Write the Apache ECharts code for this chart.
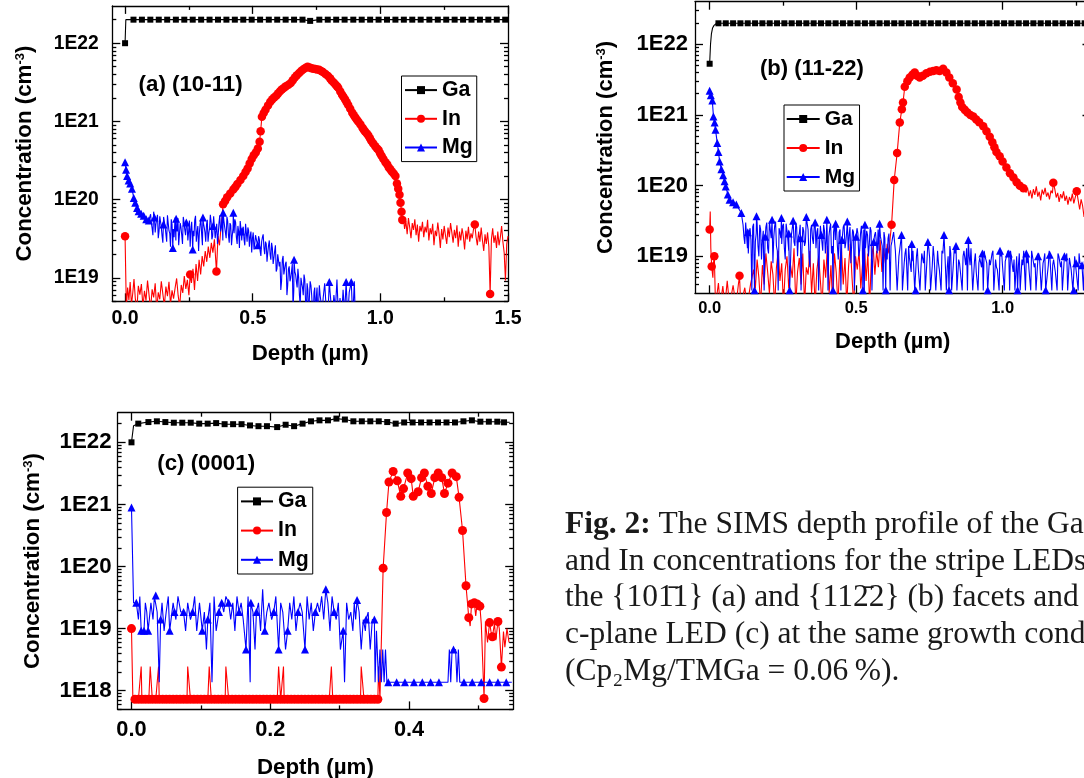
<!DOCTYPE html>
<html><head><meta charset="utf-8">
<script src="https://cdn.jsdelivr.net/npm/echarts@6/dist/echarts.min.js"></script>
<style>html,body{margin:0;padding:0;background:#fff}#c{width:1084px;height:778px}</style>
</head><body><div id="c"></div><script>
// ================= DATA (depth in µm, concentration in cm^-3) =================
const seriesNames = ['Ga', 'In', 'Mg'];
const panelLabels = ['(a) (10-11)', '(b) (11-22)', '(c) (0001)'];
const xTickLabelsA = [0, 0.5, 1.0, 1.5];
const xTickLabelsB = [0, 0.5, 1.0];
const xTickLabelsC = [0, 0.2, 0.4];
const yTickLabelsAB = [1e19, 1e20, 1e21, 1e22];
const yTickLabelsC = [1e18, 1e19, 1e20, 1e21, 1e22];

// ---- panel (a) ----
const aGaMark = [[0,1.0e22],[0.033,2.0e22],[0.066,2.0e22],[0.099,2.0e22],[0.132,2.0e22],[0.165,2.0e22],[0.199,2.0e22],[0.232,2.0e22],[0.265,2.0e22],[0.298,2.0e22],[0.331,2.0e22],[0.364,2.0e22],[0.397,2.0e22],[0.430,2.0e22],[0.463,2.0e22],[0.496,2.0e22],[0.529,2.0e22],[0.563,2.0e22],[0.596,2.0e22],[0.629,2.0e22],[0.662,2.0e22],[0.695,2.0e22],[0.725,1.93e22],[0.761,2.0e22],[0.794,2.0e22],[0.827,2.0e22],[0.860,2.0e22],[0.894,2.0e22],[0.927,2.0e22],[0.960,2.0e22],[0.993,2.0e22],[1.026,2.0e22],[1.059,2.0e22],[1.092,2.0e22],[1.125,2.0e22],[1.158,2.0e22],[1.192,2.0e22],[1.225,2.0e22],[1.258,2.0e22],[1.291,2.0e22],[1.324,2.0e22],[1.357,2.0e22],[1.390,2.0e22],[1.423,2.0e22],[1.456,2.0e22],[1.489,2.0e22]];
const aGaLine = [[0.003,2.0e22],[1.5,2.0e22]];
const aInMark = [[0,3.4e19],[0.255,1.1e19],[0.358,1.2e19],
 [0.384,8.7e19],[0.392,9.6e19],[0.400,1.07e20],[0.412,1.2e20],[0.424,1.35e20],[0.432,1.45e20],[0.440,1.58e20],[0.452,1.78e20],[0.463,2.0e20],[0.472,2.25e20],[0.480,2.5e20],[0.488,2.9e20],[0.496,3.3e20],[0.504,3.7e20],[0.512,4.0e20],[0.520,4.5e20],[0.527,5.5e20],[0.531,7.5e20],[0.536,1.15e21],[0.543,1.28e21],[0.550,1.41e21],[0.560,1.6e21],[0.569,1.78e21],[0.577,1.92e21],[0.585,2.04e21],[0.593,2.15e21],[0.600,2.29e21],[0.608,2.45e21],[0.615,2.57e21],[0.623,2.7e21],[0.630,2.82e21],[0.640,2.95e21],[0.649,3.09e21],[0.657,3.35e21],[0.665,3.63e21],[0.673,3.9e21],[0.682,4.17e21],[0.691,4.45e21],[0.700,4.68e21],[0.708,4.85e21],[0.715,5.0e21],[0.723,4.9e21],[0.730,4.79e21],[0.738,4.72e21],[0.745,4.68e21],[0.752,4.62e21],[0.760,4.57e21],[0.768,4.42e21],[0.775,4.27e21],[0.785,4.05e21],[0.795,3.8e21],[0.803,3.55e21],[0.810,3.31e21],[0.818,3.12e21],[0.825,2.95e21],[0.830,2.82e21],[0.835,2.69e21],[0.843,2.42e21],[0.850,2.19e21],[0.856,2.05e21],[0.862,1.91e21],[0.868,1.76e21],[0.874,1.62e21],[0.882,1.45e21],[0.890,1.29e21],[0.896,1.2e21],[0.902,1.12e21],[0.908,1.05e21],[0.914,9.9e20],[0.922,9.1e20],[0.930,8.3e20],[0.935,7.8e20],[0.940,7.4e20],[0.947,7.0e20],[0.953,6.6e20],[0.959,6.1e20],[0.965,5.6e20],[0.972,5.2e20],[0.980,4.8e20],[0.987,4.5e20],[0.993,4.3e20],[0.999,3.9e20],[1.005,3.6e20],[1.012,3.3e20],[1.020,3.0e20],[1.027,2.8e20],[1.033,2.57e20],[1.039,2.45e20],[1.045,2.29e20],[1.052,2.15e20],[1.059,2.0e20],[1.065,1.6e20],[1.070,1.38e20],[1.075,1.15e20],[1.079,9.1e19],[1.083,7.0e19],[1.086,5.5e19],
 [1.370,4.8e19],[1.430,6.2e18]];
const aInLine = [[0.005,4.0e18],[0.010,7.5e18],[0.015,5.2e18],[0.020,8.8e18],[0.025,4.5e18],[0.030,6.3e18],[0.035,9.6e18],[0.040,5.5e18],[0.046,3.8e18],[0.052,7.9e18],[0.058,6.1e18],[0.064,8.3e18],[0.070,4.2e18],[0.076,6.8e18],[0.082,5.1e18],[0.088,9.2e18],[0.094,6.0e18],[0.100,4.0e18],[0.106,7.1e18],[0.112,5.6e18],[0.118,8.5e18],[0.124,3.9e18],[0.130,6.5e18],[0.136,5.3e18],[0.142,9.0e18],[0.148,6.2e18],[0.154,4.4e18],[0.160,7.7e18],[0.166,5.8e18],[0.172,8.9e18],[0.178,4.6e18],[0.184,6.9e18],[0.190,5.4e18],[0.196,7.4e18],[0.202,9.8e18],[0.208,5.9e18],[0.214,4.3e18],[0.220,8.1e18],[0.226,6.4e18],[0.232,1.05e19],[0.238,7.2e18],[0.244,9.4e18],[0.250,6.0e18],[0.260,8.6e18],[0.266,1.3e19],[0.272,7.0e18],[0.278,1.5e19],[0.284,9.1e18],[0.290,1.7e19],[0.296,1.1e19],[0.302,1.9e19],[0.308,1.4e19],[0.314,2.2e19],[0.320,1.6e19],[0.326,2.5e19],[0.332,1.8e19],[0.338,2.8e19],[0.344,2.1e19],[0.350,3.1e19],[0.364,3.4e19],[0.370,2.6e19],[0.376,4.5e19],
 [1.090,6.0e19],[1.095,4.2e19],[1.100,5.3e19],[1.105,3.6e19],[1.110,5.8e19],[1.115,4.4e19],[1.120,3.2e19],[1.125,5.0e19],[1.130,4.1e19],[1.135,5.6e19],[1.140,3.5e19],[1.145,4.8e19],[1.150,2.9e19],[1.155,4.6e19],[1.160,3.9e19],[1.165,5.2e19],[1.170,3.3e19],[1.175,4.5e19],[1.180,3.8e19],[1.185,5.5e19],[1.190,3.0e19],[1.195,4.3e19],[1.200,3.6e19],[1.205,4.9e19],[1.210,2.6e19],[1.215,4.0e19],[1.220,3.4e19],[1.225,5.1e19],[1.230,3.7e19],[1.235,2.4e19],[1.240,4.2e19],[1.245,3.1e19],[1.250,4.6e19],[1.255,3.5e19],[1.260,2.7e19],[1.265,4.4e19],[1.270,3.3e19],[1.275,5.0e19],[1.280,3.8e19],[1.285,2.8e19],[1.290,4.1e19],[1.295,3.2e19],[1.300,4.7e19],[1.305,2.5e19],[1.310,3.9e19],[1.315,3.0e19],[1.320,4.3e19],[1.325,3.4e19],[1.330,2.3e19],[1.335,4.0e19],[1.340,3.1e19],[1.345,4.5e19],[1.350,2.9e19],[1.355,3.7e19],[1.360,3.2e19],[1.365,4.2e19],[1.375,3.3e19],[1.380,2.6e19],[1.385,3.9e19],[1.390,2.9e19],[1.395,4.4e19],[1.400,3.0e19],[1.405,2.2e19],[1.410,3.6e19],[1.415,2.7e19],[1.420,3.8e19],[1.425,2.5e19],[1.435,3.1e19],[1.440,4.3e19],[1.445,2.8e19],[1.450,3.5e19],[1.455,2.4e19],[1.460,3.9e19],[1.465,2.6e19],[1.470,3.3e19],[1.475,4.6e19],[1.480,2.9e19],[1.485,2.1e19],[1.490,9.2e18],[1.495,2.7e19],[1.500,3.4e19]];
const aMgMark = [[0,3.0e20],[0.004,2.4e20],[0.008,2.0e20],[0.014,1.75e20],[0.020,1.6e20],[0.027,1.38e20],[0.034,1.05e20],[0.040,9.1e19],[0.047,7.8e19],[0.053,7.1e19],[0.063,6.6e19],[0.073,6.2e19],[0.083,5.6e19],[0.093,5.4e19],
 [0.115,5.9e19],[0.150,4.8e19],[0.187,2.4e19],[0.200,5.7e19],[0.240,5.1e19],[0.265,2.3e19],[0.305,5.9e19],[0.345,4.6e19],[0.384,6.8e19],[0.424,6.8e19],[0.455,3.9e19],[0.520,2.6e19],[0.662,1.7e19],[0.800,8.8e18],[0.866,8.8e18],[0.886,8.8e18]];
const aMgLine = [[0.100,6.5e19],[0.106,4.3e19],[0.112,7.0e19],[0.118,3.8e19],[0.124,5.6e19],[0.130,3.2e19],[0.136,6.1e19],[0.142,4.4e19],[0.148,2.8e19],[0.154,5.2e19],[0.160,3.6e19],[0.166,6.3e19],[0.172,4.0e19],[0.178,2.5e19],[0.184,4.8e19],[0.192,3.3e19],[0.196,5.9e19],[0.204,3.9e19],[0.210,2.6e19],[0.216,5.0e19],[0.222,3.5e19],[0.228,6.0e19],[0.234,4.1e19],[0.246,3.0e19],[0.252,5.4e19],[0.258,4.2e19],[0.270,3.4e19],[0.276,6.2e19],[0.282,3.8e19],[0.288,2.2e19],[0.294,4.9e19],[0.300,3.6e19],[0.310,4.4e19],[0.316,2.9e19],[0.322,5.5e19],[0.328,3.7e19],[0.334,6.4e19],[0.340,3.1e19],[0.350,5.8e19],[0.356,4.0e19],[0.362,2.7e19],[0.368,5.1e19],[0.374,3.9e19],[0.380,6.1e19],[0.390,4.5e19],[0.396,3.2e19],[0.402,5.3e19],[0.408,2.8e19],[0.414,4.7e19],[0.420,3.5e19],[0.430,5.6e19],[0.436,3.3e19],[0.442,4.6e19],[0.448,2.4e19],[0.460,4.2e19],[0.466,3.1e19],[0.472,4.9e19],[0.478,2.9e19],[0.484,4.0e19],[0.490,3.4e19],[0.496,2.1e19],[0.502,3.8e19],[0.508,2.7e19],[0.514,3.6e19],[0.526,3.1e19],[0.532,1.9e19],[0.538,3.3e19],[0.544,2.4e19],[0.550,2.9e19],[0.556,1.6e19],[0.562,2.6e19],[0.568,2.0e19],[0.574,2.8e19],[0.580,1.5e19],[0.586,2.2e19],[0.592,1.2e19],[0.598,2.0e19],[0.604,1.4e19],[0.610,7.0e18],[0.616,1.7e19],[0.622,1.1e19],[0.628,1.5e19],[0.634,6.0e18],[0.640,1.3e19],[0.646,9.0e18],[0.652,1.2e19],[0.658,4.0e18],[0.668,1.1e19],[0.674,7.5e18],[0.680,1.0e19],[0.686,4.5e18],[0.692,8.5e18],[0.698,6.0e18],[0.704,9.5e18],[0.710,3.5e18],[0.716,7.0e18],[0.722,5.5e18],[0.728,8.0e18],[0.734,4.0e18],[0.740,6.5e18],[0.746,3.0e18],[0.752,7.5e18],[0.758,4.5e18],[0.764,6.0e18],[0.770,3.0e18],[0.776,5.5e18],[0.782,8.5e18],[0.788,4.0e18],[0.794,3.0e18],[0.806,5.0e18],[0.812,3.0e18],[0.818,6.0e18],[0.824,4.0e18],[0.830,9.5e18],[0.836,3.0e18],[0.842,5.5e18],[0.848,3.0e18],[0.854,7.0e18],[0.860,3.5e18],[0.872,3.0e18],[0.878,6.5e18],[0.892,3.0e18],[0.898,9.0e18],[0.902,3.0e18],
 [0.103,5.0e19],[0.109,3.5e19],[0.121,4.9e19],[0.127,6.4e19],[0.133,3.9e19],[0.139,5.2e19],[0.145,3.4e19],[0.151,6.0e19],[0.157,4.5e19],[0.163,2.9e19],[0.169,5.0e19],[0.175,3.7e19],[0.181,5.6e19],[0.189,4.2e19],[0.199,3.0e19],[0.201,4.6e19],[0.207,5.8e19],[0.213,3.6e19],[0.219,4.4e19],[0.225,2.7e19],[0.231,5.1e19],[0.237,3.5e19],[0.243,4.7e19],[0.249,3.9e19],[0.255,2.5e19],[0.261,5.2e19],[0.267,4.0e19],[0.273,5.5e19],[0.279,2.9e19],[0.285,4.6e19],[0.291,3.7e19],[0.297,5.6e19],[0.303,2.6e19],[0.307,5.0e19],[0.313,3.8e19],[0.319,4.8e19],[0.325,2.9e19],[0.331,4.3e19],[0.337,5.2e19],[0.343,3.4e19],[0.347,6.1e19],[0.353,3.2e19],[0.359,4.9e19],[0.365,3.6e19],[0.371,6.3e19],[0.377,4.4e19],[0.383,3.0e19],[0.387,5.4e19],[0.393,3.8e19],[0.399,6.0e19],[0.405,3.5e19],[0.411,5.0e19],[0.417,2.6e19],[0.423,4.3e19],[0.427,3.7e19],[0.433,5.1e19],[0.439,2.7e19],[0.445,3.9e19],[0.451,5.3e19],[0.457,3.0e19],[0.463,4.5e19],[0.469,2.6e19],[0.475,3.8e19],[0.481,4.4e19],[0.487,2.5e19],[0.493,3.9e19],[0.499,3.2e19],[0.505,2.3e19],[0.511,3.5e19],[0.517,2.8e19],[0.523,3.4e19],[0.529,2.2e19],[0.535,2.9e19],[0.541,3.6e19],[0.547,2.0e19],[0.553,2.7e19],[0.559,2.1e19],[0.565,3.0e19],[0.571,1.7e19],[0.577,2.4e19],[0.583,1.8e19],[0.589,2.6e19],[0.595,1.3e19],[0.601,2.1e19],[0.607,1.6e19],[0.613,9.0e18],[0.619,1.9e19],[0.625,1.3e19],[0.631,1.6e19],[0.637,8.0e18],[0.643,1.4e19],[0.649,1.0e19],[0.655,1.5e19],[0.661,7.0e18],[0.665,1.2e19],[0.671,9.0e18],[0.677,1.3e19],[0.683,6.0e18],[0.689,1.0e19],[0.695,7.5e18],[0.701,1.1e19],[0.707,5.0e18],[0.713,8.5e18],[0.719,3.0e18],[0.725,9.0e18],[0.731,6.0e18],[0.737,3.0e18],[0.743,7.5e18],[0.749,5.5e18],[0.755,3.0e18],[0.761,8.0e18],[0.767,5.0e18]];

// ---- panel (b) ----
const bGaMark = [[0,5.3e21],[0.030,1.98e22],[0.055,1.98e22],[0.080,1.98e22],[0.105,1.98e22],[0.130,1.98e22],[0.155,1.98e22],[0.180,1.98e22],[0.205,1.98e22],[0.230,1.98e22],[0.255,1.98e22],[0.280,1.98e22],[0.305,1.98e22],[0.330,1.98e22],[0.355,1.98e22],[0.380,1.98e22],[0.405,1.98e22],[0.430,1.98e22],[0.455,1.98e22],[0.480,1.98e22],[0.505,1.98e22],[0.530,1.98e22],[0.555,1.98e22],[0.580,1.98e22],[0.605,1.98e22],[0.630,1.98e22],[0.655,1.98e22],[0.680,1.98e22],[0.705,1.98e22],[0.730,1.98e22],[0.755,1.98e22],[0.780,1.98e22],[0.805,1.98e22],[0.830,1.98e22],[0.855,1.98e22],[0.880,1.98e22],[0.905,1.98e22],[0.930,1.98e22],[0.955,1.98e22],[0.980,1.98e22],[1.005,1.98e22],[1.030,1.98e22],[1.055,1.98e22],[1.080,1.98e22],[1.105,1.98e22],[1.130,1.98e22],[1.155,1.98e22],[1.180,1.98e22],[1.205,1.98e22],[1.230,1.98e22],[1.255,1.98e22],[1.280,1.98e22]];
const bGaLine = [[0.003,1.0e22],[0.006,1.4e22],[0.010,1.7e22],[0.015,1.85e22],[0.022,1.95e22],[1.300,1.98e22]];
const bInMark = [[0,2.4e19],[0.007,7.2e18],[0.016,1.0e19],[0.102,5.3e18],
 [0.621,2.8e19],[0.630,1.2e20],[0.640,2.9e20],[0.649,7.8e20],[0.656,1.2e21],[0.660,1.5e21],[0.666,2.5e21],[0.675,3.0e21],[0.683,3.4e21],[0.692,3.7e21],[0.700,4.0e21],[0.708,3.6e21],[0.717,3.4e21],[0.728,3.6e21],[0.740,3.9e21],[0.752,4.1e21],[0.763,4.2e21],[0.774,4.3e21],[0.785,4.2e21],[0.797,4.5e21],[0.808,4.0e21],[0.818,3.4e21],[0.830,2.8e21],[0.843,2.3e21],[0.850,1.8e21],[0.856,1.5e21],[0.862,1.3e21],[0.871,1.18e21],[0.880,1.08e21],[0.890,1.0e21],[0.900,9.5e20],[0.910,8.6e20],[0.920,7.9e20],[0.934,6.9e20],[0.945,5.9e20],[0.956,4.9e20],[0.965,4.1e20],[0.972,3.5e20],[0.979,3.0e20],[0.990,2.6e20],[1.000,2.2e20],[1.013,1.8e20],[1.025,1.5e20],[1.037,1.3e20],[1.048,1.12e20],[1.059,1.0e20],[1.071,9.2e19],
 [1.173,1.1e20],[1.253,8.3e19]];
const bInLine = [[0.002,4.3e19],[0.004,1.3e19],[0.011,5.0e18],[0.013,8.0e18],[0.020,2.0e18],[0.030,4.2e18],[0.036,2.0e18],[0.045,3.8e18],[0.052,2.0e18],[0.060,4.5e18],[0.068,2.0e18],[0.080,3.9e18],[0.090,2.0e18],[0.098,4.0e18],[0.106,2.0e18],[0.120,3.6e18],[0.128,2.0e18],[0.140,4.1e18],
 [0.150,6.5e18],[0.156,3.5e18],[0.162,9.0e18],[0.168,5.0e18],[0.174,2.0e18],[0.180,7.5e18],[0.186,4.0e18],[0.192,1.1e19],[0.198,6.0e18],[0.204,3.0e18],[0.210,8.5e18],[0.216,5.5e18],[0.222,2.0e18],[0.228,7.0e18],[0.234,1.2e19],[0.240,4.5e18],[0.246,8.0e18],[0.252,2.0e18],[0.258,6.5e18],[0.264,1.0e19],[0.270,3.5e18],[0.276,7.5e18],[0.282,5.0e18],[0.288,1.3e19],[0.294,2.0e18],[0.300,6.0e18],[0.306,9.5e18],[0.312,4.0e18],[0.318,1.1e19],[0.324,2.0e18],[0.330,7.0e18],[0.336,5.5e18],[0.342,1.2e19],[0.348,3.0e18],[0.354,8.0e18],[0.360,2.0e18],[0.366,6.5e18],[0.372,1.0e19],[0.378,4.5e18],[0.384,2.0e18],[0.390,9.0e18],[0.396,5.0e18],[0.402,1.4e19],[0.408,3.0e18],[0.414,7.5e18],[0.420,2.0e18],[0.426,1.1e19],[0.432,6.0e18],[0.438,2.0e18],[0.444,8.5e18],[0.450,1.3e19],[0.456,4.0e18],[0.462,9.5e18],[0.468,2.0e18],[0.474,7.0e18],[0.480,1.5e19],[0.486,5.0e18],[0.492,2.0e18],[0.498,1.0e19],[0.504,6.5e18],[0.510,1.2e19],[0.516,3.5e18],[0.522,8.0e18],[0.528,1.6e19],[0.534,4.5e18],[0.540,1.1e19],[0.546,2.0e18],[0.552,9.0e18],[0.558,1.4e19],[0.564,5.5e18],[0.570,1.2e19],[0.576,7.0e18],[0.582,1.7e19],[0.588,6.0e18],[0.594,1.3e19],[0.600,8.0e18],[0.606,1.5e19],[0.612,1.1e19],[0.616,1.8e19],
 [1.080,8.0e19],[1.085,9.4e19],[1.090,7.1e19],[1.095,8.6e19],[1.100,6.6e19],[1.105,8.9e19],[1.110,7.4e19],[1.115,9.8e19],[1.120,7.0e19],[1.125,8.2e19],[1.130,6.2e19],[1.135,8.8e19],[1.140,7.5e19],[1.145,9.3e19],[1.150,7.0e19],[1.155,8.0e19],[1.160,6.4e19],[1.165,8.5e19],[1.170,7.8e19],[1.178,9.0e19],[1.183,6.8e19],[1.188,7.9e19],[1.193,5.9e19],[1.198,7.6e19],[1.203,6.6e19],[1.208,8.3e19],[1.213,6.1e19],[1.218,7.2e19],[1.223,5.4e19],[1.228,6.9e19],[1.233,6.0e19],[1.238,7.7e19],[1.243,5.6e19],[1.248,6.8e19],[1.258,6.2e19],[1.263,4.6e19],[1.268,6.4e19],[1.273,5.2e19],[1.278,3.6e19],[1.283,5.8e19],[1.288,4.9e19],[1.293,6.1e19],[1.298,4.4e19]];
const bMgMark = [[0,2.2e21],[0.004,1.9e21],[0.009,1.6e21],[0.013,9.5e20],[0.017,7.8e20],[0.020,6.2e20],[0.026,4.0e20],[0.030,3.0e20],[0.034,2.2e20],[0.040,1.7e20],[0.046,1.4e20],[0.051,1.15e20],[0.055,9.7e19],[0.062,7.5e19],[0.068,6.3e19],[0.080,5.8e19],[0.091,5.4e19],[0.108,4.1e19],
 [0.130,2.2e19],[0.160,3.7e19],[0.190,1.9e19],[0.213,3.3e19],[0.245,3.5e19],[0.270,2.1e19],[0.285,3.2e19],[0.310,1.8e19],[0.330,3.6e19],[0.360,3.0e19],[0.381,2.0e19],[0.400,3.3e19],[0.430,2.9e19],[0.452,1.7e19],[0.470,3.1e19],[0.500,1.9e19],[0.530,2.8e19],[0.560,1.6e19],[0.580,2.9e19],
 [0.655,2.0e19],[0.690,1.5e19],[0.745,1.6e19],[0.800,2.0e19],[0.841,1.4e19],[0.883,1.7e19],[0.931,1.1e19],[0.991,1.2e19],[1.021,1.1e19],[1.081,1.1e19],[1.121,1.0e19],[1.161,1.05e19],[1.211,1.0e19],[1.251,8.0e18],[1.271,7.5e18],
 [0.153,3.3e18],[0.273,3.3e18],[0.421,3.3e18],[0.523,3.3e18],[0.601,3.3e18],[0.703,3.3e18],[0.817,3.3e18],[0.949,3.3e18],[1.051,3.3e18],[1.147,3.3e18],[1.243,3.3e18],[1.291,3.3e18]];
const bMgLine = [[0.114,2.8e19],[0.120,1.5e19],[0.126,3.2e19],[0.132,1.1e19],[0.138,2.5e19],[0.144,3.3e18],[0.150,2.9e19],[0.156,1.6e19],[0.162,3.0e19],[0.168,1.0e19],[0.174,2.4e19],[0.180,1.7e19],[0.186,3.3e18],[0.192,2.6e19],[0.198,1.3e19],[0.204,3.1e19],[0.210,1.8e19],[0.216,8.0e18],[0.222,2.7e19],[0.228,1.4e19],[0.234,3.3e18],[0.240,2.2e19],[0.246,1.5e19],[0.252,2.9e19],[0.258,9.0e18],[0.264,2.3e19],[0.270,1.2e19],[0.276,3.3e18],[0.282,2.5e19],[0.288,1.6e19],[0.294,3.0e19],[0.300,1.0e19],[0.306,2.1e19],[0.312,3.3e18],[0.318,2.6e19],[0.324,1.4e19],[0.336,2.4e19],[0.342,7.0e18],[0.348,2.8e19],[0.354,1.5e19],[0.366,2.2e19],[0.372,3.3e18],[0.378,2.7e19],[0.386,1.2e19],[0.392,2.3e19],[0.398,1.7e19],[0.404,3.3e18],[0.410,2.5e19],[0.416,1.1e19],[0.426,2.8e19],[0.436,1.4e19],[0.442,2.2e19],[0.448,3.3e18],[0.456,2.6e19],[0.462,1.3e19],[0.476,2.0e19],[0.482,8.0e18],[0.488,2.4e19],[0.494,3.3e18],[0.506,2.1e19],[0.512,1.2e19],[0.518,2.7e19],[0.528,3.3e18],[0.536,2.3e19],[0.542,1.0e19],[0.548,2.6e19],[0.554,3.3e18],[0.566,2.2e19],[0.572,1.1e19],[0.586,2.0e19],[0.592,3.3e18],[0.598,1.8e19],[0.606,9.0e18],[0.612,2.1e19],[0.616,3.3e18],[0.622,1.6e19],[0.628,2.2e19],
 [0.117,1.9e19],[0.123,3.0e19],[0.129,1.3e19],[0.135,2.2e19],[0.141,1.7e19],[0.147,2.6e19],[0.159,2.1e19],[0.165,1.4e19],[0.171,2.8e19],[0.177,9.0e18],[0.183,2.3e19],[0.189,1.6e19],[0.195,3.0e19],[0.201,1.1e19],[0.207,2.4e19],[0.219,1.9e19],[0.225,3.1e19],[0.231,1.2e19],[0.237,2.5e19],[0.243,1.8e19],[0.249,2.7e19],[0.255,1.3e19],[0.261,2.9e19],[0.267,1.7e19],[0.279,2.0e19],[0.291,1.4e19],[0.297,2.6e19],[0.303,1.9e19],[0.309,2.8e19],[0.315,1.2e19],[0.321,2.3e19],[0.327,1.6e19],[0.333,2.9e19],[0.339,1.0e19],[0.345,2.4e19],[0.351,1.8e19],[0.357,2.7e19],[0.363,1.3e19],[0.369,2.5e19],[0.375,1.5e19],[0.389,2.8e19],[0.395,1.1e19],[0.401,2.4e19],[0.407,1.9e19],[0.413,2.9e19],[0.419,1.4e19],[0.423,2.2e19],[0.429,1.7e19],[0.433,2.5e19],[0.439,9.0e18],[0.445,2.4e19],[0.451,1.9e19],[0.459,2.8e19],[0.465,1.6e19],[0.468,2.3e19],[0.473,1.2e19],[0.479,2.6e19],[0.485,1.5e19],[0.491,2.2e19],[0.497,1.7e19],[0.503,2.5e19],[0.509,1.0e19],[0.515,2.1e19],[0.521,1.6e19],[0.526,2.4e19],[0.532,1.3e19],[0.539,2.0e19],[0.545,1.5e19],[0.551,2.3e19],[0.557,1.1e19],[0.563,2.0e19],[0.569,1.6e19],[0.575,2.4e19],[0.578,1.2e19],[0.583,1.9e19],[0.589,1.4e19],[0.595,2.2e19],[0.603,1.3e19],[0.609,1.8e19],[0.619,1.4e19],[0.625,1.9e19],
 [0.634,1.2e19],[0.640,3.3e18],[0.646,1.0e19],[0.652,1.6e19],[0.658,3.3e18],[0.664,8.0e18],[0.670,1.3e19],[0.676,3.3e18],[0.682,9.5e18],[0.688,6.0e18],[0.694,1.2e19],[0.700,3.3e18],[0.706,1.0e19],[0.712,7.0e18],[0.718,3.3e18],[0.724,1.1e19],[0.730,8.0e18],[0.736,3.3e18],[0.742,9.0e18],[0.748,1.3e19],[0.754,3.3e18],[0.760,7.5e18],[0.766,1.0e19],[0.772,3.3e18],[0.778,1.2e19],[0.784,6.5e18],[0.790,3.3e18],[0.796,1.1e19],[0.804,8.5e18],[0.808,3.3e18],[0.814,1.0e19],[0.820,1.4e19],[0.826,3.3e18],[0.832,8.0e18],[0.838,1.1e19],[0.844,3.3e18],[0.850,9.0e18],[0.856,6.0e18],[0.862,3.3e18],[0.868,1.2e19],[0.874,7.5e18],[0.880,3.3e18],[0.886,1.0e19],[0.892,1.3e19],[0.898,3.3e18],[0.904,8.5e18],[0.910,6.0e18],[0.916,3.3e18],[0.922,9.5e18],[0.928,7.0e18],[0.934,3.3e18],[0.940,1.0e19],[0.946,8.0e18],[0.952,3.3e18],[0.958,7.5e18],[0.964,1.1e19],[0.970,3.3e18],[0.976,9.0e18],[0.982,6.5e18],[0.988,3.3e18],[0.994,1.0e19],[1.000,7.0e18],[1.006,3.3e18],[1.012,8.5e18],[1.018,1.2e19],[1.024,3.3e18],[1.030,9.5e18],[1.036,6.0e18],[1.042,3.3e18],[1.048,1.0e19],[1.054,7.5e18],[1.060,3.3e18],[1.066,9.0e18],[1.072,1.2e19],[1.078,3.3e18],[1.084,8.0e18],[1.090,6.5e18],[1.096,3.3e18],[1.102,1.0e19],[1.108,7.0e18],[1.114,3.3e18],[1.126,9.5e18],[1.132,3.3e18],[1.138,8.0e18],[1.144,1.1e19],[1.150,3.3e18],[1.156,7.5e18],[1.168,3.3e18],[1.174,9.0e18],[1.180,6.0e18],[1.186,3.3e18],[1.192,1.0e19],[1.198,7.0e18],[1.204,3.3e18],[1.216,8.5e18],[1.222,3.3e18],[1.228,9.5e18],[1.234,6.5e18],[1.240,3.3e18],[1.246,1.0e19],[1.258,3.3e18],[1.264,8.0e18],[1.276,3.3e18],[1.282,9.0e18],[1.288,6.0e18],[1.294,3.3e18],[1.300,7.5e18],
 [0.667,1.1e19],[0.679,1.4e19],[0.691,8.5e18],[0.709,1.3e19],[0.721,6.5e18],[0.733,1.2e19],[0.751,9.5e18],[0.763,1.4e19],[0.781,8.0e18],[0.793,1.2e19],[0.811,7.0e18],[0.823,1.1e19],[0.835,1.3e19],[0.853,8.0e18],[0.865,1.0e19],[0.877,1.3e19],[0.889,7.5e18],[0.907,1.1e19],[0.919,8.0e18],[0.937,1.2e19],[0.955,9.0e18],[0.967,1.2e19],[0.979,7.0e18],[0.997,1.1e19],[1.009,8.5e18],[1.027,1.2e19],[1.039,9.0e18],[1.057,1.1e19],[1.069,7.5e18],[1.087,1.0e19],[1.099,1.2e19],[1.111,8.0e18],[1.123,1.1e19],[1.141,9.0e18],[1.159,1.2e19],[1.171,7.5e18],[1.189,1.1e19],[1.201,8.5e18],[1.219,1.1e19],[1.231,9.0e18],[1.249,7.5e18],[1.261,1.1e19],[1.279,8.5e18],[1.297,1.0e19]];

// ---- panel (c) ----
const cGaMark = [[0,1.0e22],[0.0098,2.0e22],[0.0244,2.12e22],[0.0366,2.18e22],[0.0488,2.12e22],[0.061,2.07e22],[0.0732,2.07e22],[0.0854,2.07e22],[0.0976,2.0e22],[0.1098,2.0e22],[0.122,2.04e22],[0.1342,1.96e22],[0.1464,1.96e22],[0.1586,1.96e22],[0.1708,1.87e22],[0.183,1.82e22],[0.1952,1.82e22],[0.2099,1.76e22],[0.2221,1.92e22],[0.2343,1.82e22],[0.2465,2.0e22],[0.2587,2.18e22],[0.2709,2.26e22],[0.2831,2.26e22],[0.2953,2.41e22],[0.3075,2.33e22],[0.3197,2.18e22],[0.3319,2.18e22],[0.3441,2.18e22],[0.3563,2.18e22],[0.3685,2.12e22],[0.3807,2.0e22],[0.3929,2.09e22],[0.4051,2.09e22],[0.4173,2.09e22],[0.4295,2.09e22],[0.4417,2.09e22],[0.4539,2.09e22],[0.4661,2.09e22],[0.4783,2.18e22],[0.4905,2.26e22],[0.5027,2.15e22],[0.5149,2.15e22],[0.5271,2.15e22],[0.5368,2.1e22]];
const cGaLine = [[0.003,1.85e22],[0.545,2.1e22]];
const cInMark = [[0,1.0e19],
 [0.005,7.3e17],[0.010,7.3e17],[0.015,7.3e17],[0.020,7.3e17],[0.025,7.3e17],[0.030,7.3e17],[0.035,7.3e17],[0.040,7.3e17],[0.045,7.3e17],[0.050,7.3e17],[0.055,7.3e17],[0.060,7.3e17],[0.065,7.3e17],[0.070,7.3e17],[0.075,7.3e17],[0.080,7.3e17],[0.085,7.3e17],[0.090,7.3e17],[0.095,7.3e17],[0.100,7.3e17],[0.105,7.3e17],[0.110,7.3e17],[0.115,7.3e17],[0.120,7.3e17],[0.125,7.3e17],[0.130,7.3e17],[0.135,7.3e17],[0.140,7.3e17],[0.145,7.3e17],[0.150,7.3e17],[0.155,7.3e17],[0.160,7.3e17],[0.165,7.3e17],[0.170,7.3e17],[0.175,7.3e17],[0.180,7.3e17],[0.185,7.3e17],[0.190,7.3e17],[0.195,7.3e17],[0.200,7.3e17],[0.205,7.3e17],[0.210,7.3e17],[0.215,7.3e17],[0.220,7.3e17],[0.225,7.3e17],[0.230,7.3e17],[0.235,7.3e17],[0.240,7.3e17],[0.245,7.3e17],[0.250,7.3e17],[0.255,7.3e17],[0.260,7.3e17],[0.265,7.3e17],[0.270,7.3e17],[0.275,7.3e17],[0.280,7.3e17],[0.285,7.3e17],[0.290,7.3e17],[0.295,7.3e17],[0.300,7.3e17],[0.305,7.3e17],[0.310,7.3e17],[0.315,7.3e17],[0.320,7.3e17],[0.325,7.3e17],[0.330,7.3e17],[0.335,7.3e17],[0.340,7.3e17],[0.345,7.3e17],[0.350,7.3e17],[0.355,7.3e17],
 [0.3626,9.4e19],[0.3675,7.4e20],[0.371,2.3e21],[0.377,3.4e21],[0.383,2.4e21],[0.388,1.35e21],[0.392,1.8e21],[0.398,3.2e21],[0.403,2.6e21],[0.406,1.35e21],[0.413,1.6e21],[0.418,2.7e21],[0.422,3.2e21],[0.427,1.96e21],[0.432,1.5e21],[0.437,2.7e21],[0.442,3.2e21],[0.447,2.7e21],[0.451,1.5e21],[0.456,2.2e21],[0.462,3.2e21],[0.468,2.8e21],[0.472,1.3e21],[0.477,3.8e20],[0.482,4.9e19],[0.486,1.5e19],[0.490,2.5e19],[0.494,2.6e19],[0.498,2.5e19],[0.502,2.3e19],[0.508,7.5e17],[0.516,1.25e19],[0.520,7.4e18],[0.528,1.3e19],[0.533,2.4e18]];
const cInLine = [[0.002,7.3e17],[0.014,2.46e18],[0.027,2.46e18],[0.039,2.46e18],[0.081,2.46e18],[0.112,2.46e18],[0.136,2.46e18],[0.212,2.46e18],[0.219,2.46e18],[0.288,2.46e18],[0.331,2.46e18],[0.356,2.46e18],[0.358,7.3e17],
 [0.488,1.1e19],[0.496,1.6e19],[0.504,1.2e19],[0.506,3.0e18],[0.510,1.3e19],[0.513,6.0e18],[0.518,9.0e18],[0.523,1.2e19],[0.525,6.5e18],[0.530,1.0e19],[0.536,9.0e18],[0.538,5.0e18],[0.541,1.0e19],[0.544,6.0e18]];
const cMgMark = [[0,8.9e20],[0.007,2.6e19],[0.014,9.2e18],[0.018,9.2e18],[0.024,9.2e18],[0.035,3.4e19],[0.042,1.4e19],[0.055,9.2e18],[0.062,1.85e19],[0.075,1.85e19],[0.088,1.85e19],[0.102,9.2e18],[0.110,1.4e19],[0.126,1.85e19],[0.130,2.6e19],[0.140,2.6e19],[0.155,1.85e19],[0.165,4.6e18],[0.172,2.6e19],[0.180,1.85e19],[0.192,9.2e18],[0.205,1.85e19],[0.212,4.6e18],[0.225,9.2e18],[0.240,1.85e19],[0.250,4.6e18],[0.265,1.85e19],[0.280,4.3e19],[0.292,1.85e19],[0.305,9.2e18],[0.325,2.9e19],[0.338,1.4e19],[0.350,1.4e19],
 [0.370,1.37e18],[0.382,1.37e18],[0.394,1.37e18],[0.407,1.37e18],[0.419,1.37e18],[0.431,1.37e18],[0.443,1.37e18],[0.464,4.6e18],[0.479,1.37e18],[0.491,1.37e18],[0.504,1.37e18],[0.516,1.37e18],[0.528,1.37e18],[0.540,1.37e18]];
const cMgLine = [[0.003,2.6e19],[0.010,1.4e19],[0.012,3.3e19],[0.016,9.2e18],[0.020,2.6e19],[0.022,1.85e19],[0.026,9.2e18],[0.028,2.6e19],[0.031,1.4e19],[0.033,3.3e19],[0.037,1.85e19],[0.040,1.37e18],[0.044,2.6e19],[0.047,9.2e18],[0.050,1.85e19],[0.053,3.3e19],[0.057,9.2e18],[0.060,2.6e19],[0.064,1.4e19],[0.067,3.3e19],[0.071,1.85e19],[0.078,9.2e18],[0.081,2.6e19],[0.085,1.4e19],[0.091,3.3e19],[0.094,9.2e18],[0.098,2.6e19],[0.105,1.85e19],[0.108,4.6e18],[0.113,2.6e19],[0.116,1.37e18],[0.119,3.3e19],[0.122,9.2e18],[0.133,1.85e19],[0.136,3.3e19],[0.143,1.4e19],[0.146,2.6e19],[0.149,9.2e18],[0.152,3.3e19],[0.158,2.6e19],[0.161,1.4e19],[0.168,3.3e19],[0.171,1.37e18],[0.175,1.85e19],[0.178,4.6e18],[0.183,2.6e19],[0.186,9.2e18],[0.189,4.3e19],[0.195,1.85e19],[0.198,2.6e19],[0.202,1.4e19],[0.208,3.3e19],[0.215,2.6e19],[0.218,1.85e19],[0.222,4.6e18],[0.228,2.6e19],[0.231,1.4e19],[0.234,3.3e19],[0.237,9.2e18],[0.243,2.6e19],[0.246,1.85e19],[0.253,3.3e19],[0.256,1.4e19],[0.259,2.6e19],[0.262,9.2e18],[0.268,2.6e19],[0.271,1.85e19],[0.274,3.3e19],[0.277,1.4e19],[0.283,2.6e19],[0.286,9.2e18],[0.289,3.3e19],[0.295,1.4e19],[0.298,2.6e19],[0.301,4.6e18],[0.307,1.37e18],[0.310,2.6e19],[0.313,1.4e19],[0.316,1.85e19],[0.319,9.2e18],[0.321,2.6e19],[0.323,1.4e19],[0.328,1.85e19],[0.331,4.6e18],[0.334,1.4e19],[0.337,9.2e18],[0.341,1.85e19],[0.344,4.6e18],[0.347,1.4e19],[0.351,1.37e18],[0.353,9.2e18],[0.356,1.37e18],[0.358,4.6e18],[0.360,1.37e18],[0.362,4.6e18],[0.364,1.37e18],[0.366,4.6e18],[0.368,1.37e18],
 [0.456,1.37e18],[0.458,4.6e18],[0.460,1.37e18],[0.462,4.6e18],[0.467,4.6e18],[0.469,1.37e18],[0.471,4.6e18],[0.473,1.37e18],[0.548,1.37e18]];

// ================= LAYOUT / STYLE =================
const FONT = '"Liberation Sans", Arial, Helvetica, sans-serif';
const SERIF = '"Liberation Serif", "Times New Roman", serif';
const COLORS = {Ga: '#000000', In: '#ff0000', Mg: '#0000ff'};
const SYMBOLS = {Ga: 'rect', In: 'circle', Mg: 'triangle'};

const panels = [
  {grid: {left: 112.3, top: 5.9, width: 395.7, height: 295.4},
   xmin: -0.05, xmax: 1.5, xMajor: xTickLabelsA, xMinor: [0.25, 0.75, 1.25],
   ymin: 5e18, ymax: 3e22, yMajor: yTickLabelsAB,
   xLabelSize: 19.5, yLabelSize: 19.3, xLabelMargin: 7.4, yLabelMargin: 13.5,
   titleSize: 22.3, xNameGap: 41.6, yNameGap: 76,
   sizes: {Ga: 6, In: 8.5, Mg: 8},
   data: {Ga: [aGaLine, aGaMark], In: [aInLine, aInMark], Mg: [aMgLine, aMgMark]},
   legend: {left: 401.5, top: 76, padding: [3.6, 4, 3.6, 2.5], itemGap: 7.7, itemWidth: 32, fontSize: 21.3},
   label: {x: 138.6, y: 84.5, size: 22.3}},
  {grid: {left: 695, top: 1.7, width: 395.5, height: 291.6},
   xmin: -0.05, xmax: 1.3, xMajor: xTickLabelsB, xMinor: [0.25, 0.75, 1.25],
   ymin: 3e18, ymax: 4e22, yMajor: yTickLabelsAB,
   xLabelSize: 16.5, yLabelSize: 22, xLabelMargin: 7, yLabelMargin: 7,
   titleSize: 22, xNameGap: 38, yNameGap: 78,
   sizes: {Ga: 6, In: 8.5, Mg: 8},
   data: {Ga: [bGaLine, bGaMark], In: [bInLine, bInMark], Mg: [bMgLine, bMgMark]},
   legend: {left: 784, top: 105, padding: [3.5, 4.5, 3.5, 1.7], itemGap: 8, itemWidth: 33, fontSize: 21},
   label: {x: 760, y: 69, size: 22}},
  {grid: {left: 117.6, top: 412.7, width: 395.6, height: 296.7},
   xmin: -0.02, xmax: 0.55, xMajor: xTickLabelsC, xMinor: [0.1, 0.3, 0.5],
   ymin: 5e17, ymax: 3e22, yMajor: yTickLabelsC,
   xLabelSize: 21.8, yLabelSize: 22.3, xLabelMargin: 9.8, yLabelMargin: 6,
   titleSize: 22.3, xNameGap: 47, yNameGap: 74,
   sizes: {Ga: 6, In: 9, Mg: 8},
   data: {Ga: [cGaLine, cGaMark], In: [cInLine, cInMark], Mg: [cMgLine, cMgMark]},
   legend: {left: 237.6, top: 487.2, padding: [3.7, 4, 3.7, 2.4], itemGap: 8.2, itemWidth: 32, fontSize: 21.3},
   label: {x: 157.2, y: 464.2, size: 22.3}}
];

function logMinorTicks(min, max) {
  const out = [];
  for (let e = Math.floor(Math.log10(min)); e <= Math.ceil(Math.log10(max)); e++) {
    for (let m = 2; m <= 9; m++) { const v = m * Math.pow(10, e); if (v >= min && v <= max) out.push(v); }
  }
  return out;
}
function merge(line, mark) {
  const pts = line.map(p => ({value: p, symbol: 'none'})).concat(mark.map(p => ({value: p})));
  pts.sort((a, b) => a.value[0] - b.value[0]);
  return pts;
}

const grid = [], xAxis = [], yAxis = [], series = [], legend = [], graphic = [];
const axLine = {color: '#000', width: 1.3};
panels.forEach((p, gi) => {
  grid.push(Object.assign({containLabel: false, outerBoundsMode: 'none', show: false}, p.grid));
  const nameStyle = {fontSize: p.titleSize, fontWeight: 'bold', fontFamily: FONT, color: '#000'};
  const baseX = {type: 'value', gridIndex: gi, min: p.xmin, max: p.xmax, splitLine: {show: false}, splitArea: {show: false}, minorTick: {show: false}};
  xAxis.push(Object.assign({}, baseX, {position: 'bottom',
    axisLine: {show: true, onZero: false, lineStyle: axLine},
    axisTick: {show: true, inside: true, length: 8, lineStyle: axLine, customValues: p.xMajor},
    axisLabel: {show: true, customValues: p.xMajor, formatter: v => Number(v).toFixed(1), margin: p.xLabelMargin,
      fontSize: p.xLabelSize, fontWeight: 'bold', fontFamily: FONT, color: '#000'},
    name: 'Depth (µm)', nameLocation: 'middle', nameGap: p.xNameGap, nameMoveOverlap: false, nameTextStyle: nameStyle}));
  xAxis.push(Object.assign({}, baseX, {position: 'bottom', axisLine: {show: false, onZero: false},
    axisTick: {show: true, inside: true, length: 4, lineStyle: axLine, customValues: p.xMinor}, axisLabel: {show: false}}));
  xAxis.push(Object.assign({}, baseX, {position: 'top', axisLine: {show: true, onZero: false, lineStyle: axLine},
    axisTick: {show: true, inside: true, length: 8, lineStyle: axLine, customValues: p.xMajor}, axisLabel: {show: false}}));
  xAxis.push(Object.assign({}, baseX, {position: 'top', axisLine: {show: false, onZero: false},
    axisTick: {show: true, inside: true, length: 4, lineStyle: axLine, customValues: p.xMinor}, axisLabel: {show: false}}));

  const yMinor = logMinorTicks(p.ymin, p.ymax);
  const baseY = {type: 'log', logBase: 10, gridIndex: gi, min: p.ymin, max: p.ymax, splitLine: {show: false}, splitArea: {show: false}, minorTick: {show: false}};
  yAxis.push(Object.assign({}, baseY, {position: 'left',
    axisLine: {show: true, onZero: false, lineStyle: axLine},
    axisTick: {show: true, inside: true, length: 8, lineStyle: axLine, customValues: p.yMajor},
    axisLabel: {show: true, customValues: p.yMajor, formatter: v => '1E' + Math.round(Math.log10(v)), margin: p.yLabelMargin,
      fontSize: p.yLabelSize, fontWeight: 'bold', fontFamily: FONT, color: '#000'},
    name: 'Concentration (cm{s|-3})', nameLocation: 'middle', nameGap: p.yNameGap, nameMoveOverlap: false,
    nameTextStyle: Object.assign({}, nameStyle, {rich: {s: {fontSize: 13, fontWeight: 'bold', fontFamily: FONT, color: '#000', verticalAlign: 'top'}}})}));
  yAxis.push(Object.assign({}, baseY, {position: 'left', axisLine: {show: false, onZero: false},
    axisTick: {show: true, inside: true, length: 4, lineStyle: axLine, customValues: yMinor}, axisLabel: {show: false}}));
  yAxis.push(Object.assign({}, baseY, {position: 'right', axisLine: {show: true, onZero: false, lineStyle: axLine},
    axisTick: {show: true, inside: true, length: 8, lineStyle: axLine, customValues: p.yMajor}, axisLabel: {show: false}}));
  yAxis.push(Object.assign({}, baseY, {position: 'right', axisLine: {show: false, onZero: false},
    axisTick: {show: true, inside: true, length: 4, lineStyle: axLine, customValues: yMinor}, axisLabel: {show: false}}));

  seriesNames.forEach((nm, si) => {
    const [line, mark] = p.data[nm];
    series.push({type: 'line', name: nm, xAxisIndex: gi * 4, yAxisIndex: gi * 4,
      data: merge(line, mark), symbol: SYMBOLS[nm], symbolSize: p.sizes[nm], showSymbol: true, showAllSymbol: true,
      color: COLORS[nm], lineStyle: {color: COLORS[nm], width: 1.1}, itemStyle: {color: COLORS[nm]},
      clip: true, animation: false, z: 2 + si});
  });

  legend.push({orient: 'vertical', align: 'left', left: p.legend.left, top: p.legend.top, padding: p.legend.padding,
    itemGap: p.legend.itemGap, itemWidth: p.legend.itemWidth, itemHeight: 10, data: seriesNames, selectedMode: false,
    borderColor: '#000', borderWidth: 1, backgroundColor: '#fff', z: 10,
    textStyle: {fontSize: p.legend.fontSize, fontWeight: 'bold', fontFamily: FONT, color: '#000'}});

  graphic.push({type: 'text', x: p.label.x, y: p.label.y, z: 20,
    style: {text: panelLabels[gi], fontSize: p.label.size, fontWeight: 'bold', fontFamily: FONT, fill: '#000',
      textAlign: 'left', textVerticalAlign: 'middle', align: 'left', verticalAlign: 'middle'}});
});

// caption
const captionLines = [
  '{b|Fig. 2:} The SIMS depth profile of the Ga, Mg',
  'and In concentrations for the stripe LEDs on',
  'the {10\u0031\u03041} (a) and {11\u0032\u03042} (b) facets and the',
  'c-plane LED (c) at the same growth conditions',
  '(Cp\u2082Mg/TMGa = 0.06\u2009%).'
];
const captionBaselines = [535.5, 572, 608.5, 645.5, 682];
const CAP_SIZE = 31.5;
captionLines.forEach((t, i) => {
  graphic.push({type: 'text', x: 565, y: captionBaselines[i] - 0.34 * CAP_SIZE, z: 20,
    style: {text: t, fontSize: CAP_SIZE, fontFamily: SERIF, fill: '#1a1a1a', textAlign: 'left', textVerticalAlign: 'middle', align: 'left', verticalAlign: 'middle',
      rich: {b: {fontSize: CAP_SIZE, fontFamily: SERIF, fontWeight: 'bold', fill: '#1a1a1a', color: '#1a1a1a'}}}});
});

const chart = echarts.init(document.getElementById('c'), null, {renderer: 'canvas', width: 1084, height: 778});
chart.setOption({animation: false, backgroundColor: '#fff', grid, xAxis, yAxis, series, legend, graphic, tooltip: {show: false}});
</script></body></html>
